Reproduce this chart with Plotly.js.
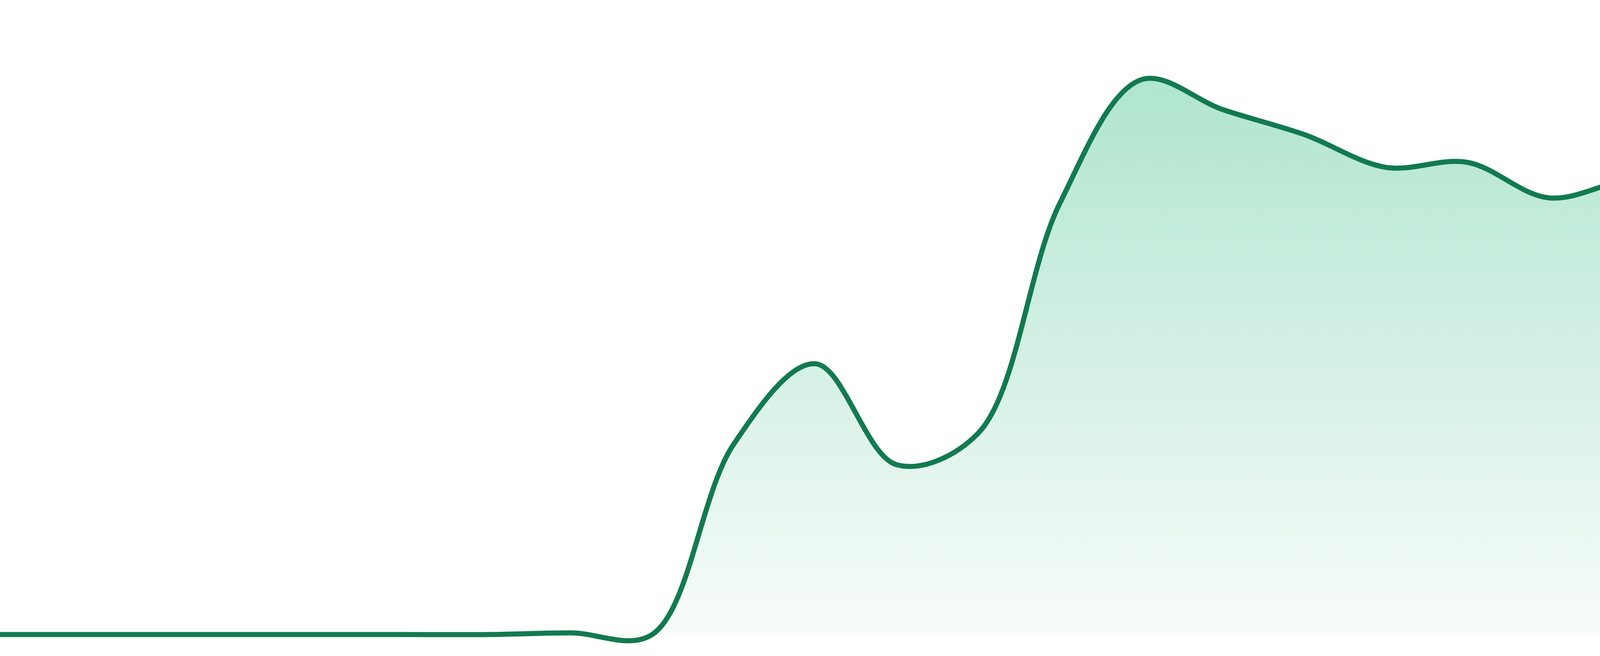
<html>
	<head>
		<meta charset="utf-8" />
		<title>Area</title>
		<script src="https://cdn.plot.ly/plotly-3.0.1.min.js"></script>
		<style>
			body { margin: 0; background: #ffffff; }
			#myDiv { width: 4800px; height: 1680px; }
		</style>
	</head>

	<body>

	  <div id="myDiv"></div>

		<script>

// one point per period
const x = [0, 1, 2, 3, 4, 5, 6, 7, 8, 9, 10, 11, 12, 13, 14, 15, 16, 17, 18, 19, 20, 21, 22, 23];
const y = [0, 0, 0, 0, 0, 0, 0, 0.3, 0, 34.3, 48.8, 30.6, 36.3, 77.7, 100, 94.6, 90.1, 84.2, 85.1, 78.7, 82.1, 83.0, 81.2, 66.5];

var trace1 = {
  x: x,
  y: y,
  mode: 'lines',
  type: 'scatter',
  fill: 'tozeroy',
  fillgradient: {
    type: 'vertical',
    start: 0,
    stop: 100,
    colorscale: [[0, '#f8fcfa'], [1, '#b0e5cf']]
  },
  line: { color: '#127a50', width: 13, shape: 'spline', smoothing: 1 },
  hoverinfo: 'skip'
};

var layout = {
  width: 4800,
  height: 1680,
  margin: { l: 0, r: 0, t: 0, b: 0, pad: 0 },
  paper_bgcolor: '#ffffff',
  plot_bgcolor: '#ffffff',
  showlegend: false,
  xaxis: { range: [0, 23], visible: false, fixedrange: true },
  yaxis: { range: [-3.87, 114.36], visible: false, fixedrange: true }
};

Plotly.newPlot('myDiv', [trace1], layout, { displayModeBar: false, staticPlot: true });

		</script>

	</body>
</html>
